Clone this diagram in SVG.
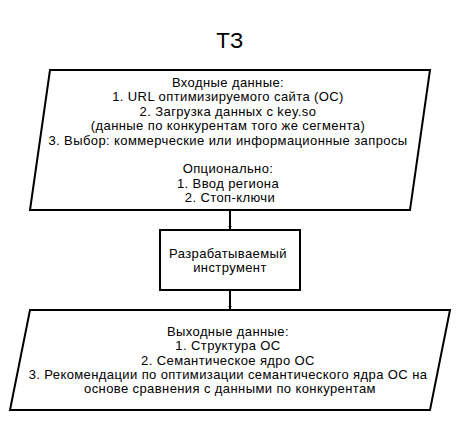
<svg xmlns="http://www.w3.org/2000/svg" width="460" height="430" viewBox="0 0 460 430">
<style>
.shape{fill:#fff;stroke:#000;stroke-width:2}
.t{font-family:"Liberation Sans",Arial,sans-serif;font-size:13px;letter-spacing:0.4px;fill:#000;text-anchor:middle}
.title{font-family:"Liberation Sans",Arial,sans-serif;font-size:22px;letter-spacing:0.5px;fill:#000;text-anchor:middle}
.conn{stroke:#000;stroke-width:2;fill:none}
</style>
<defs>
<marker id="arr" markerWidth="4" markerHeight="4" refX="3.5" refY="2" orient="auto" markerUnits="userSpaceOnUse">
<path d="M0,0 L4,2 L0,4 Z" fill="#000"/>
</marker>
</defs>
<rect width="460" height="430" fill="#fff"/>
<text class="title" x="230" y="48">ТЗ</text>
<g id="input">
<polygon class="shape" points="50,70 430,70 410,210 30,210"/>
<text class="t" x="230" y="87">
<tspan x="230">Входные данные:</tspan>
<tspan x="230" dy="14.4">1. URL оптимизируемого сайта (ОС)</tspan>
<tspan x="230" dy="14.4">2. Загрузка данных с key.so</tspan>
<tspan x="230" dy="14.4">(данные по конкурентам того же сегмента)</tspan>
<tspan x="230" dy="14.4">3. Выбор: коммерческие или информационные запросы</tspan>
<tspan x="230" dy="28.8">Опционально:</tspan>
<tspan x="230" dy="14.4">1. Ввод региона</tspan>
<tspan x="230" dy="14.4">2. Стоп-ключи</tspan>
</text>
</g>
<g id="tool">
<rect class="shape" x="160" y="230" width="140" height="60"/>
<text class="t" x="230" y="257.5">
<tspan x="230">Разрабатываемый</tspan>
<tspan x="230" dy="14.4">инструмент</tspan>
</text>
</g>
<g id="output">
<polygon class="shape" points="30,310 450,310 430,410 10,410"/>
<text class="t" x="230" y="335.8">
<tspan x="230">Выходные данные:</tspan>
<tspan x="230" dy="14.4">1. Структура ОС</tspan>
<tspan x="230" dy="14.4">2. Семантическое ядро ОС</tspan>
<tspan x="230" dy="14.4">3. Рекомендации по оптимизации семантического ядра ОС на</tspan>
<tspan x="230" dy="14.4">основе сравнения с данными по конкурентам</tspan>
</text>
</g>
<g id="connectors">
<line class="conn" x1="230" y1="211" x2="230" y2="229" marker-end="url(#arr)"/>
<line class="conn" x1="230" y1="291" x2="230" y2="309" marker-end="url(#arr)"/>
</g>
</svg>
